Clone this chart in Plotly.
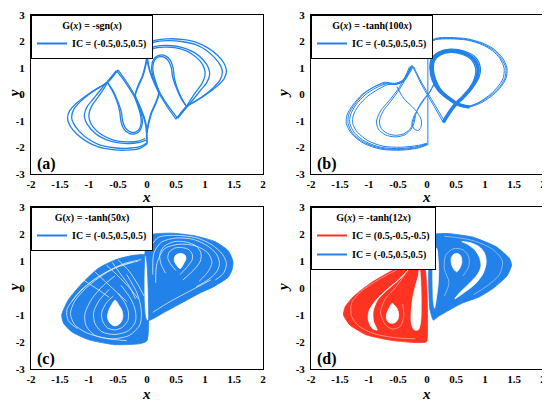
import plotly.graph_objects as go
from plotly.subplots import make_subplots

BLUE = '#2282ea'
RED = '#ff3322'
FONT = 'Liberation Serif'

# axis ticks
x_ticks = [-2, -1.5, -1, -0.5, 0, 0.5, 1, 1.5, 2]
x_tick_text = ['-2', '-1.5', '-1', '-0.5', '0', '0.5', '1', '1.5', '2']
y_ticks = [-3, -2, -1, 0, 1, 2, 3]
y_tick_text = ['-3', '-2', '-1', '0', '1', '2', '3']

panel_tags = ['(a)', '(b)', '(c)', '(d)']
g_titles = ['G(<i>x</i>) = -sgn(<i>x</i>)', 'G(<i>x</i>) = -tanh(100<i>x</i>)',
            'G(<i>x</i>) = -tanh(50<i>x</i>)', 'G(<i>x</i>) = -tanh(12<i>x</i>)']
ic_blue = 'IC = (-0.5,0.5,0.5)'
ic_red = 'IC = (0.5,-0.5,-0.5)'

# ---- (a) G(x) = -sgn(x): outer lobes
a_lobe_x = [0, 0.12, 0.35, 0.6, 0.85, 1.05, 1.22, 1.33, 1.37, 1.33, 1.2, 1.02, 0.85, 0.68, 0.5, None,
            0.5, 0.36, 0.22, 0.12, 0.05, 0.01, 0, 0, None,
            0, 0.12, 0.35, 0.6, 0.84, 1.02, 1.17, 1.27, 1.3, 1.26, 1.14, 0.98, 0.82, 0.69, 0.52, None,
            0.52, 0.38, 0.24, 0.14, 0.06, 0.02, 0, None,
            0.02, 0.15, 0.35, 0.6, 0.82, 0.97, 1.06, 1.08, 1.03, 0.92, 0.8, 0.69, 0.53, None,
            0.03, 0.15, 0.35, 0.58, 0.78, 0.92, 0.99, 1.0, 0.95, 0.85, 0.75, 0.68, None,
            0, -0.12, -0.35, -0.6, -0.85, -1.05, -1.22, -1.33, -1.37, -1.33, -1.2, -1.02, -0.85, -0.68, -0.5, None,
            -0.5, -0.36, -0.22, -0.12, -0.05, -0.01, 0, 0, None,
            0, -0.12, -0.35, -0.6, -0.84, -1.02, -1.17, -1.27, -1.3, -1.26, -1.14, -0.98, -0.82, -0.69, -0.52, None,
            -0.52, -0.38, -0.24, -0.14, -0.06, -0.02, 0, None,
            -0.02, -0.15, -0.35, -0.6, -0.82, -0.97, -1.06, -1.08, -1.03, -0.92, -0.8, -0.69, -0.53, None,
            -0.03, -0.15, -0.35, -0.58, -0.78, -0.92, -0.99, -1.0, -0.95, -0.85, -0.75, -0.68]
a_lobe_y = [1.87, 2.03, 2.1, 2.08, 1.97, 1.76, 1.47, 1.17, 0.9, 0.6, 0.3, 0.0, -0.24, -0.45, -0.93, None,
            -0.93, -0.5, 0.0, 0.45, 0.85, 1.2, 1.5, 1.87, None,
            1.82, 1.97, 2.03, 2.0, 1.88, 1.67, 1.38, 1.08, 0.85, 0.55, 0.25, -0.04, -0.27, -0.46, -0.88, None,
            -0.88, -0.48, 0.0, 0.45, 0.85, 1.2, 1.82, None,
            1.72, 1.82, 1.85, 1.78, 1.58, 1.3, 1.0, 0.75, 0.45, 0.15, -0.18, -0.47, -0.9, None,
            1.66, 1.76, 1.79, 1.72, 1.52, 1.25, 0.97, 0.72, 0.42, 0.12, -0.2, -0.46, None,
            -1.87, -2.03, -2.1, -2.08, -1.97, -1.76, -1.47, -1.17, -0.9, -0.6, -0.3, 0.0, 0.24, 0.45, 0.93, None,
            0.93, 0.5, 0.0, -0.45, -0.85, -1.2, -1.5, -1.87, None,
            -1.82, -1.97, -2.03, -2.0, -1.88, -1.67, -1.38, -1.08, -0.85, -0.55, -0.25, 0.04, 0.27, 0.46, 0.88, None,
            0.88, 0.48, 0.0, -0.45, -0.85, -1.2, -1.82, None,
            -1.72, -1.82, -1.85, -1.78, -1.58, -1.3, -1.0, -0.75, -0.45, -0.15, 0.18, 0.47, 0.9, None,
            -1.66, -1.76, -1.79, -1.72, -1.52, -1.25, -0.97, -0.72, -0.42, -0.12, 0.2, 0.46]
# (a) the two small teardrops in the middle
a_drop_x = [0.68, 0.6, 0.52, 0.47, 0.45, 0.4, 0.3, 0.2, 0.12, 0.08, 0.1, 0.15, 0.2, 0.15, 0.07, 0.02, 0, None,
            0.68, 0.58, 0.5, 0.44, 0.42, 0.37, 0.28, 0.2, 0.13, 0.1, 0.12, 0.17, 0.21, 0.16, 0.08, 0.03, 0, None,
            -0.68, -0.6, -0.52, -0.47, -0.45, -0.4, -0.3, -0.2, -0.12, -0.08, -0.1, -0.15, -0.2, -0.15, -0.07, -0.02, 0, None,
            -0.68, -0.58, -0.5, -0.44, -0.42, -0.37, -0.28, -0.2, -0.13, -0.1, -0.12, -0.17, -0.21, -0.16, -0.08, -0.03, 0]
a_drop_y = [-0.45, -0.15, 0.25, 0.65, 1.0, 1.3, 1.48, 1.48, 1.35, 1.05, 0.7, 0.35, 0.05, -0.3, -0.7, -1.1, -1.4, None,
            -0.45, -0.12, 0.28, 0.68, 1.0, 1.27, 1.42, 1.42, 1.3, 1.02, 0.7, 0.35, 0.05, -0.3, -0.7, -1.1, -1.45, None,
            0.45, 0.15, -0.25, -0.65, -1.0, -1.3, -1.48, -1.48, -1.35, -1.05, -0.7, -0.35, -0.05, 0.3, 0.7, 1.1, 1.4, None,
            0.45, 0.12, -0.28, -0.68, -1.0, -1.27, -1.42, -1.42, -1.3, -1.02, -0.7, -0.35, -0.05, 0.3, 0.7, 1.1, 1.45]

# ---- (b) G(x) = -tanh(100x)
b_lobe_x = [0.02, 0.15, 0.4, 0.7, 0.97, 1.16, 1.3, 1.38, 1.36, 1.25, 1.1, 0.92, 0.72, 0.55, None,
            0.02, 0.15, 0.4, 0.7, 0.95, 1.13, 1.26, 1.33, 1.31, 1.2, 1.06, 0.89, 0.71, 0.55, None,
            0.03, 0.15, 0.4, 0.7, 0.96, 1.15, 1.28, 1.36, 1.34, 1.23, 1.08, 0.9, 0.72, 0.55, None,
            -0.26, -0.33, -0.42, -0.55, -0.72, -0.92, -1.12, -1.28, -1.38, -1.39, -1.3, -1.1, -0.8, -0.45, -0.15, 0.0, None,
            -0.24, -0.31, -0.4, -0.53, -0.7, -0.88, -1.07, -1.23, -1.32, -1.33, -1.25, -1.06, -0.78, -0.45, -0.15, 0.0, None,
            -0.27, -0.34, -0.43, -0.56, -0.73, -0.9, -1.09, -1.25, -1.35, -1.36, -1.28, -1.08, -0.79, -0.45, -0.15, 0.0, None,
            -0.25, -0.32, -0.41, -0.54, -0.68, -0.84, -1.02, -1.18, -1.27, -1.28, -1.2, -1.02, -0.76, -0.45, -0.15, 0.0, None,
            0.015, 0.015]
b_lobe_y = [1.97, 2.12, 2.15, 2.1, 1.93, 1.7, 1.38, 1.0, 0.6, 0.22, -0.08, -0.33, -0.47, -0.4, None,
            1.93, 2.07, 2.1, 2.05, 1.88, 1.65, 1.35, 0.99, 0.6, 0.24, -0.05, -0.3, -0.44, -0.38, None,
            1.95, 2.09, 2.12, 2.07, 1.9, 1.67, 1.36, 1.0, 0.6, 0.23, -0.06, -0.31, -0.45, -0.39, None,
            1.1, 0.8, 0.52, 0.4, 0.43, 0.28, 0.0, -0.4, -0.78, -1.1, -1.48, -1.83, -2.06, -2.1, -2.02, -1.9, None,
            1.05, 0.78, 0.5, 0.38, 0.4, 0.25, -0.02, -0.4, -0.78, -1.1, -1.45, -1.78, -2.0, -2.04, -1.96, -1.86, None,
            1.08, 0.8, 0.52, 0.42, 0.46, 0.3, 0.02, -0.38, -0.76, -1.1, -1.47, -1.81, -2.03, -2.07, -1.99, -1.88, None,
            1.06, 0.79, 0.5, 0.39, 0.37, 0.2, -0.06, -0.42, -0.78, -1.1, -1.42, -1.74, -1.95, -1.99, -1.92, -1.84, None,
            1.97, -1.92]
# (b) the heavy right loop
b_core_x = [0.28, 0.38, 0.5, 0.62, 0.76, 0.86, 0.88, 0.8, 0.62, 0.4, 0.22, 0.1, 0.08, 0.12, 0.22, 0.38, 0.55, 0.72]
b_core_y = [-1.05, -0.7, -0.35, -0.1, 0.25, 0.65, 1.0, 1.35, 1.58, 1.65, 1.55, 1.3, 0.95, 0.55, 0.15, -0.15, -0.38, -0.47]
b_core2_x = [0.3, 0.4, 0.52, 0.64, 0.79, 0.9, 0.92, 0.84, 0.64, 0.4, 0.2, 0.07, 0.05, 0.09, 0.2, 0.37, 0.55, 0.74, None,
             0.27, 0.37, 0.49, 0.6, 0.73, 0.82, 0.84, 0.77, 0.6, 0.4, 0.24, 0.13, 0.11, 0.15, 0.24, 0.39, 0.55, 0.7]
b_core2_y = [-1.0, -0.66, -0.33, -0.08, 0.27, 0.67, 1.02, 1.4, 1.64, 1.71, 1.6, 1.33, 0.95, 0.53, 0.12, -0.18, -0.41, -0.5, None,
             -1.05, -0.72, -0.37, -0.12, 0.22, 0.62, 0.97, 1.3, 1.52, 1.59, 1.5, 1.27, 0.95, 0.57, 0.18, -0.12, -0.35, -0.44]
# (b) links between the two sides, inner left loops
b_link_x = [0.28, 0.15, 0.03, -0.1, -0.2, -0.26, None,
            0.3, 0.17, 0.05, -0.08, -0.18, -0.23, None,
            -0.3, -0.38, -0.5, -0.66, -0.8, -0.87, -0.84, -0.72, -0.55, -0.38, -0.27, -0.22, -0.2, -0.15, -0.05, 0.05, 0.12, None,
            -0.28, -0.36, -0.48, -0.63, -0.76, -0.82, -0.79, -0.68, -0.53, -0.38, -0.28, -0.24, -0.21, None,
            0.12, 0.05, -0.05, -0.14, -0.22, -0.26, -0.22, -0.15, -0.1, -0.1, -0.16, -0.26, -0.4, -0.52]
b_link_y = [-1.05, -0.55, -0.1, 0.4, 0.85, 1.1, None,
            -1.0, -0.52, -0.08, 0.4, 0.82, 1.05, None,
            1.05, 0.65, 0.2, -0.25, -0.62, -1.0, -1.3, -1.52, -1.6, -1.52, -1.3, -1.05, -0.8, -0.5, -0.15, 0.1, 0.4, None,
            1.02, 0.62, 0.18, -0.27, -0.64, -1.0, -1.28, -1.47, -1.54, -1.46, -1.26, -1.03, -0.8, None,
            0.4, 0.1, -0.2, -0.5, -0.8, -1.1, -1.3, -1.36, -1.2, -0.95, -0.7, -0.45, -0.15, 0.3]

# ---- (c) G(x) = -tanh(50x): filled regions of the attractor
c_fill_x = [-0.03, -0.26, -0.55, -0.84, -1.13, -1.36, -1.47, -1.44, -1.3, -1.0, -0.55, -0.12, 0.0, 0.0, -0.03, None,
            0.0, 0.08, 0.43, 0.83, 1.17, 1.4, 1.48, 1.47, 1.4, 1.15, 0.9, 0.6, 0.3, 0.0, 0.0]
c_fill_y = [1.22, 1.2, 1.04, 0.73, 0.15, -0.45, -1.0, -1.3, -1.62, -1.92, -2.1, -2.06, -1.95, 0.9, 1.22, None,
            1.9, 1.99, 2.03, 1.93, 1.72, 1.38, 1.0, 0.7, 0.4, 0.05, -0.2, -0.55, -0.9, -1.2, 1.9]
# white gaps between the orbits
c_gap_x = [0.57, 0.7, 0.78, 0.78, 0.72, 0.6, 0.48, 0.38, 0.36, 0.42, 0.5, None,
           0.62, 0.82, 0.92, 0.93, 0.85, 0.68, 0.48, 0.3, 0.22, 0.24, 0.32, None,
           0.1, 0.12, 0.25, 0.5, 0.8, 1.05, 1.2, 1.25, 1.2, 1.05, 0.85, None,
           0.05, 0.2, 0.5, 0.85, 1.12, 1.3, 1.37, 1.32, 1.18, None,
           0.15, 0.17, 0.3, 0.55, 0.85, 1.05, 1.12, 1.05, 0.9, None,
           0.1, 0.4, 0.75, 1.1, None,
           -0.5, -0.38, -0.32, -0.33, -0.42, -0.55, -0.68, -0.77, -0.78, -0.7, -0.58, None,
           -0.45, -0.28, -0.2, -0.2, -0.32, -0.55, -0.78, -0.9, -0.92, -0.82, -0.65, None,
           -0.35, -0.17, -0.1, -0.12, -0.3, -0.6, -0.9, -1.05, -1.07, -0.95, -0.75, -0.55, None,
           -0.1, -0.4, -0.75, -1.05, -1.25, -1.32, -1.25, -1.05, -0.7, -0.35, None,
           -0.25, -0.6, -0.95, -1.2, -1.38, -1.36, -1.2, None,
           -0.15, -0.5, -0.85, -1.15, -1.3, None,
           -0.9, -0.7, -0.5, -0.35, None,
           -1.1, -0.85, -0.65, None,
           -0.7, -0.5, -0.3, -0.15, None,
           -0.6, -0.45, -0.3, -0.2, None,
           -0.5, -0.3, -0.15, -0.05]
c_gap_y = [0.5, 0.8, 1.05, 1.25, 1.42, 1.5, 1.48, 1.32, 1.1, 0.85, 0.65, None,
           0.3, 0.7, 1.0, 1.3, 1.55, 1.7, 1.72, 1.55, 1.25, 0.9, 0.55, None,
           0.5, 1.3, 1.7, 1.85, 1.8, 1.55, 1.25, 0.9, 0.6, 0.3, 0.05, None,
           1.5, 1.88, 1.95, 1.86, 1.6, 1.25, 0.9, 0.55, 0.3, None,
           0.2, 0.9, 1.45, 1.62, 1.55, 1.3, 0.95, 0.6, 0.25, None,
           -0.9, -0.5, -0.1, 0.3, None,
           -0.2, -0.55, -0.9, -1.2, -1.45, -1.55, -1.48, -1.2, -0.9, -0.55, -0.3, None,
           0.1, -0.4, -0.85, -1.25, -1.58, -1.72, -1.62, -1.3, -0.9, -0.45, -0.05, None,
           0.5, -0.2, -0.8, -1.35, -1.75, -1.88, -1.75, -1.4, -0.95, -0.4, 0.1, 0.45, None,
           1.05, 0.9, 0.5, 0.0, -0.5, -0.95, -1.35, -1.65, -1.87, -1.95, None,
           0.95, 0.7, 0.25, -0.25, -0.8, -1.2, -1.5, None,
           1.0, 0.8, 0.4, -0.1, -0.5, None,
           0.6, 0.2, -0.2, -0.5, None,
           0.3, -0.05, -0.35, None,
           0.85, 0.45, 0.0, -0.4, None,
           0.95, 0.5, 0.05, -0.4, None,
           1.05, 0.6, 0.1, -0.3]
# the two empty teardrop holes
c_hole_x = [0.57, 0.63, 0.67, 0.66, 0.61, 0.55, 0.49, 0.47, 0.5, 0.57, None,
            -0.55, -0.49, -0.43, -0.42, -0.47, -0.55, -0.63, -0.68, -0.66, -0.61, -0.55]
c_hole_y = [0.72, 0.9, 1.08, 1.2, 1.27, 1.27, 1.2, 1.05, 0.88, 0.72, None,
            -0.45, -0.62, -0.85, -1.1, -1.32, -1.4, -1.32, -1.1, -0.85, -0.62, -0.45]

# ---- (d) G(x) = -tanh(12x): two coexisting attractors, outlines of the filled regions
d_red_x = [-0.07, -0.29, -0.64, -0.98, -1.27, -1.41, -1.44, -1.33, -1.04, -0.64, -0.29, -0.01, 0.01, 0.0, -0.03, -0.07]
d_red_y = [1.16, 0.97, 0.6, 0.17, -0.32, -0.69, -1.0, -1.37, -1.74, -1.93, -2.01, -1.99, -1.37, -0.14, 0.73, 1.16]
d_red_gap_x = [-0.6, -0.52, -0.49, -0.5, -0.55, -0.6, -0.66, -0.7, -0.69, -0.65, -0.6, None,
               -0.32, -0.47, -0.67, -0.87, -1.0, -1.01, -0.95, -0.86, -0.92, -0.93, -0.86, -0.7, -0.5, -0.32, None,
               -0.13, -0.11, -0.1, -0.11, -0.15, -0.22, -0.27, -0.27, -0.24, -0.19, -0.15, -0.13]
d_red_gap_y = [-0.57, -0.75, -0.95, -1.15, -1.28, -1.31, -1.28, -1.12, -0.92, -0.73, -0.57, None,
               0.68, 0.33, -0.02, -0.43, -0.85, -1.2, -1.48, -1.56, -1.25, -0.88, -0.47, -0.1, 0.28, 0.68, None,
               0.75, 0.3, -0.5, -1.25, -1.55, -1.55, -1.3, -0.8, -0.3, 0.15, 0.45, 0.75]
d_blue_x = [0.05, 0.34, 0.8, 1.2, 1.42, 1.46, 1.38, 1.15, 0.9, 0.62, 0.4, 0.2, 0.11, 0.05, 0.03, 0.03, 0.05]
d_blue_y = [1.95, 2.02, 1.88, 1.52, 1.1, 0.85, 0.45, 0.0, -0.33, -0.55, -0.8, -1.05, -1.19, -0.8, 0.0, 1.0, 1.95]
d_blue_gap_x = [0.51, 0.57, 0.6, 0.59, 0.55, 0.51, 0.46, 0.42, 0.42, 0.45, 0.51, None,
                0.48, 0.64, 0.84, 0.97, 1.02, 0.99, 0.9, 0.76, 0.6, 0.7, 0.83, 0.91, 0.93, 0.87, 0.72, 0.58, 0.48, None,
                0.11, 0.17, 0.19, 0.2, 0.19, 0.16, 0.13, 0.11, 0.1, 0.1, 0.11]
d_blue_gap_y = [0.6, 0.75, 0.95, 1.15, 1.26, 1.28, 1.25, 1.12, 0.92, 0.74, 0.6, None,
                -0.4, -0.17, 0.17, 0.55, 0.95, 1.3, 1.53, 1.67, 1.72, 1.62, 1.4, 1.1, 0.8, 0.5, 0.15, -0.14, -0.4, None,
                1.55, 1.45, 1.1, 0.6, 0.1, -0.4, -0.75, -0.5, 0.2, 1.1, 1.55]
# lighter stripes inside the bands
d_stripe_x = [-0.45, -0.8, -1.12, -1.3, -1.3, -1.18, -0.9, -0.5, -0.2, None,
              -0.38, -0.55, -0.72, -0.8, -0.72, -0.6, -0.46, -0.4, -0.42, None,
              0.3, 0.75, 1.12, 1.3, 1.25, 1.05, 0.8, None,
              0.3, 0.38, 0.3, 0.32, 0.45, 0.62, 0.72, 0.72, 0.62]
d_stripe_y = [0.75, 0.35, -0.1, -0.55, -1.05, -1.4, -1.7, -1.85, -1.88, None,
              0.5, 0.0, -0.4, -0.9, -1.35, -1.52, -1.42, -1.05, -0.6, None,
              1.92, 1.78, 1.45, 1.0, 0.5, 0.1, -0.25, None,
              -0.3, 0.2, 0.7, 1.2, 1.45, 1.42, 1.15, 0.8, 0.45]


def curve(x, y, color, width, opacity=1.0):
    return go.Scatter(x=x, y=y, mode='lines', line=dict(color=color, width=width, shape='spline', smoothing=0.8),
                      opacity=opacity, showlegend=False, hoverinfo='skip')


def area(x, y, color, smooth=0.6):
    return go.Scatter(x=x, y=y, mode='lines', fill='toself', fillcolor=color,
                      line=dict(color=color, width=0.8, shape='spline', smoothing=smooth),
                      showlegend=False, hoverinfo='skip')


def key(name, color, legend):
    # legend-only entry
    return go.Scatter(x=[None], y=[None], mode='lines', line=dict(color=color, width=2),
                      name='<b>' + name + '</b>', legend=legend, showlegend=True)


fig = make_subplots(rows=2, cols=2)

# (a)
fig.add_trace(curve(a_lobe_x, a_lobe_y, BLUE, 1.3), 1, 1)
fig.add_trace(curve(a_drop_x, a_drop_y, BLUE, 1.3), 1, 1)
fig.add_trace(key(ic_blue, BLUE, 'legend'), 1, 1)

# (b)
fig.add_trace(curve(b_lobe_x, b_lobe_y, BLUE, 1.0), 1, 2)
fig.add_trace(curve(b_link_x, b_link_y, BLUE, 1.0), 1, 2)
fig.add_trace(curve(b_core_x, b_core_y, BLUE, 3.6), 1, 2)
fig.add_trace(curve(b_core2_x, b_core2_y, BLUE, 1.2), 1, 2)
fig.add_trace(key(ic_blue, BLUE, 'legend2'), 1, 2)

# (c)
fig.add_trace(area(c_fill_x, c_fill_y, BLUE), 2, 1)
fig.add_trace(curve(c_gap_x, c_gap_y, 'white', 0.8, 0.85), 2, 1)
fig.add_trace(area(c_hole_x, c_hole_y, 'white', 1.0), 2, 1)
fig.add_trace(key(ic_blue, BLUE, 'legend3'), 2, 1)

# (d)
fig.add_trace(area(d_red_x, d_red_y, RED, 0.5), 2, 2)
fig.add_trace(area(d_red_gap_x, d_red_gap_y, 'white', 0.8), 2, 2)
fig.add_trace(area(d_blue_x, d_blue_y, BLUE, 0.5), 2, 2)
fig.add_trace(area(d_blue_gap_x, d_blue_gap_y, 'white', 0.8), 2, 2)
fig.add_trace(curve(d_stripe_x, d_stripe_y, 'white', 0.8, 0.55), 2, 2)
fig.add_trace(key(ic_red, RED, 'legend4'), 2, 2)
fig.add_trace(key(ic_blue, BLUE, 'legend4'), 2, 2)

# the page body adds an 8 px offset, so the domains are shifted by that much
x_domains = [[0.04182, 0.46364], [0.55091, 0.97273]]
y_domains = [[0.58603, 0.98254], [0.09975, 0.50374]]
x_title_pos = [0.2527, 0.7618]     # paper x of the x titles
x_title_row = [0.5287, 0.0374]     # paper y of the x titles
y_title_pos = [0.0115, 0.5]        # paper x of the y titles
y_title_row = [0.7855, 0.3017]     # paper y of the y titles
legend_names = ['legend', 'legend2', 'legend3', 'legend4']

layout = dict(width=550, height=401, margin=dict(l=0, r=0, t=0, b=0, autoexpand=False),
              paper_bgcolor='white', plot_bgcolor='white',
              font=dict(family=FONT, color='black'))
annotations = []
for i in range(4):
    r, c = divmod(i, 2)
    sfx = '' if i == 0 else str(i + 1)
    layout['xaxis' + sfx] = dict(domain=x_domains[c], range=[-2, 2], tickvals=x_ticks, ticktext=x_tick_text,
                                 showgrid=False, zeroline=False, showline=True, mirror=True, automargin=False,
                                 linecolor='black', linewidth=1, ticks='', ticklabelstandoff=0,
                                 ticklabeloverflow='allow',
                                 tickfont=dict(family=FONT, size=11, weight='bold'))
    layout['yaxis' + sfx] = dict(domain=y_domains[r], range=[-3, 3], tickvals=y_ticks, ticktext=y_tick_text,
                                 showgrid=False, zeroline=False, showline=True, mirror=True, automargin=False,
                                 linecolor='black', linewidth=1, ticks='', ticklabelstandoff=3,
                                 ticklabeloverflow='allow',
                                 tickfont=dict(family=FONT, size=11, weight='bold'))
    layout[legend_names[i]] = dict(x=x_domains[c][0], y=y_domains[r][1], xanchor='left', yanchor='top',
                                   bgcolor='white', bordercolor='black', borderwidth=1,
                                   font=dict(family=FONT, size=10, color='black'),
                                   title=dict(text='<b>' + g_titles[i] + '</b>', side='top center',
                                              font=dict(family=FONT, size=10)),
                                   tracegroupgap=0, itemwidth=30)
    annotations.append(dict(x=-1.93, y=-2.62, xref='x' + sfx, yref='y' + sfx, text='<b>' + panel_tags[i] + '</b>',
                            showarrow=False, xanchor='left', yanchor='middle',
                            font=dict(family=FONT, size=16, color='black')))
    # axis titles
    annotations.append(dict(x=x_title_pos[c], y=x_title_row[r], xref='paper', yref='paper',
                            xanchor='center', yanchor='middle',
                            text='<b><i>x</i></b>', showarrow=False, font=dict(family=FONT, size=15, color='black')))
    annotations.append(dict(x=y_title_pos[c], y=y_title_row[r], xref='paper', yref='paper', textangle=-90,
                            xanchor='center', yanchor='middle',
                            text='<b><i>y</i></b>', showarrow=False, font=dict(family=FONT, size=15, color='black')))
layout['annotations'] = annotations
fig.update_layout(**layout)

fig.write_html('out.html')
